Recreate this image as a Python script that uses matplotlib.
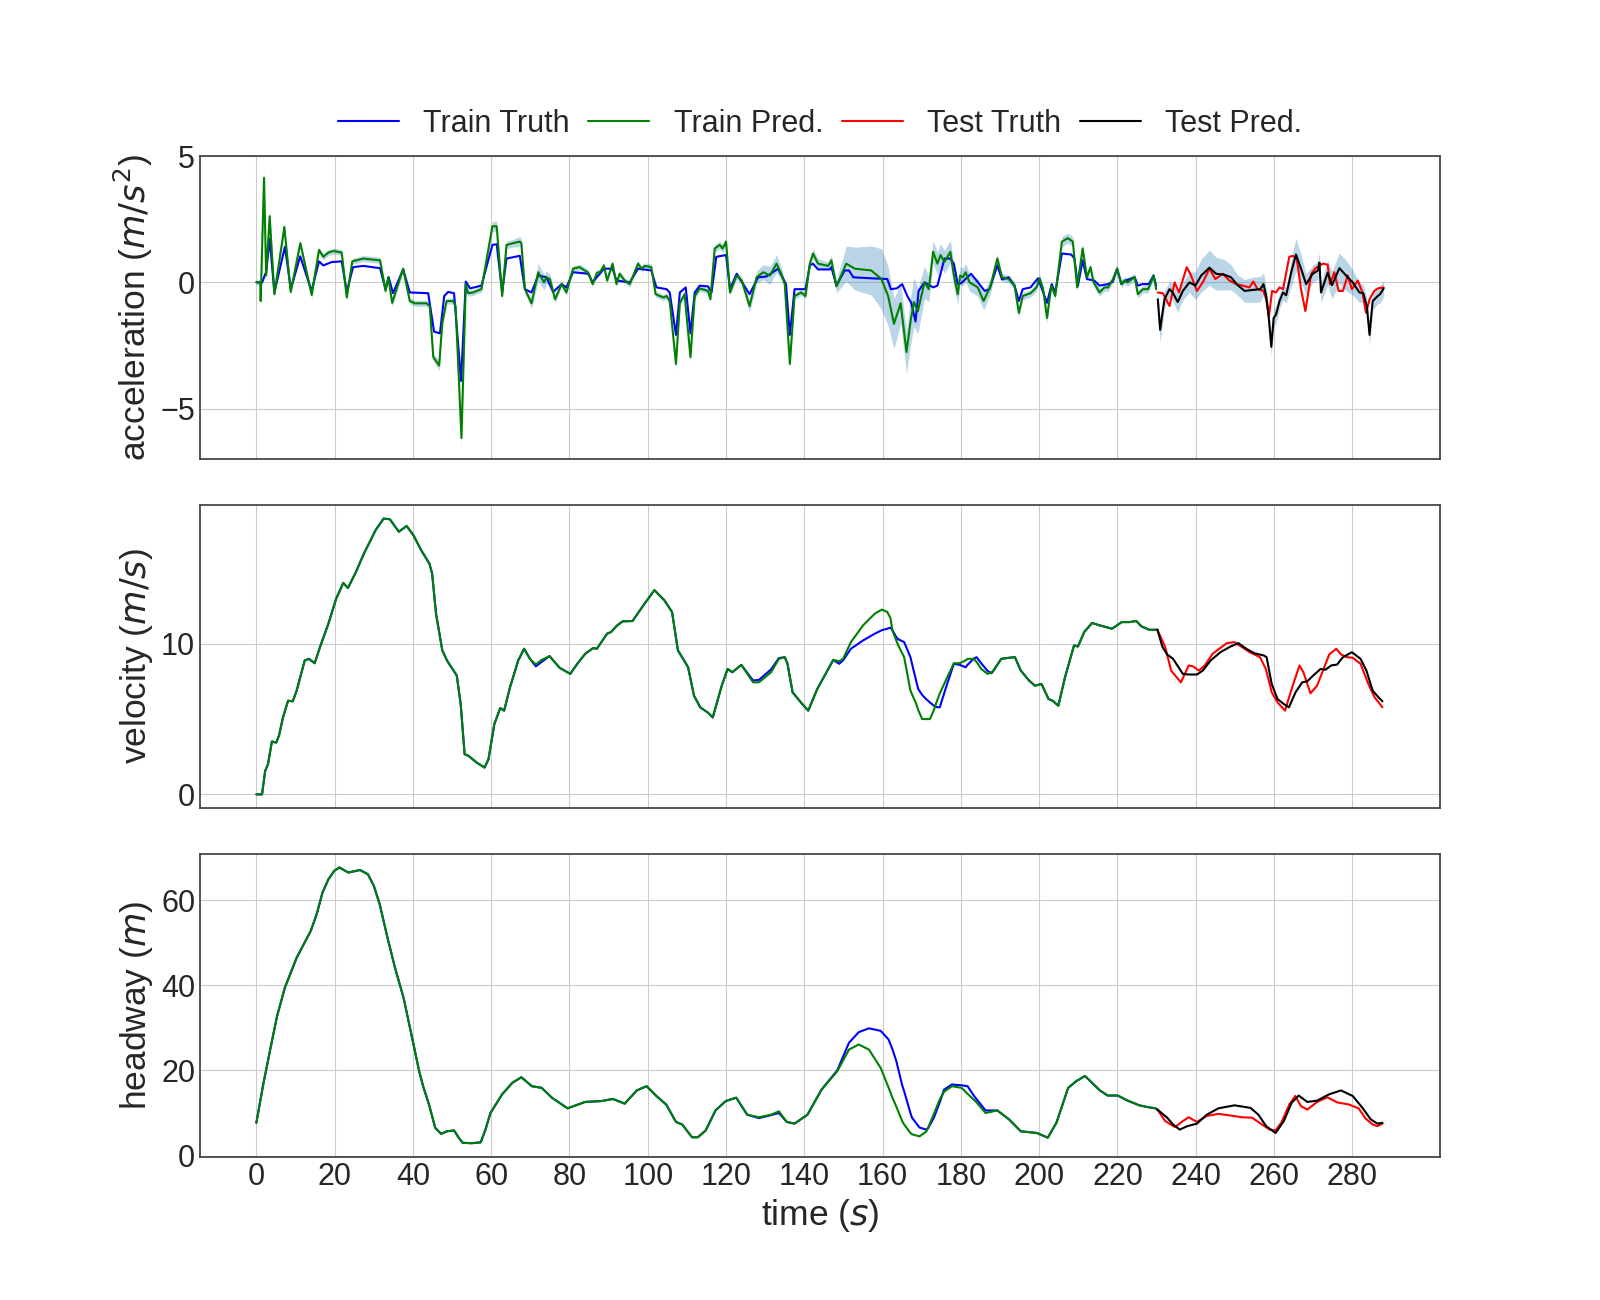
import numpy as np
import matplotlib
matplotlib.use("Agg")
import matplotlib.pyplot as plt

# ---------------- acceleration ----------------
# (time, value)
acc_train_truth = [
    (0, 0), (1.5, 0), (2.2, 0.3), (2.5, 0.4), (3.4, 1.72), (4.6, -0.4), (7.3, 1.41), (8.8, -0.27),
    (11.2, 1.03), (14.1, -0.34), (16.0, 0.83), (17.1, 0.67), (19.2, 0.8), (21.8, 0.83), (23.1, -0.38),
    (24.7, 0.6), (27.3, 0.65), (31.6, 0.56), (33.0, -0.27), (33.8, 0.2), (34.9, -0.43), (37.5, 0.51),
    (39.2, -0.4), (43.9, -0.43), (45.4, -1.95), (46.9, -2.02), (48.0, -0.54), (49.0, -0.38), (50.5, -0.43),
    (52.3, -3.9), (53.5, 0.03), (54.6, -0.24), (57.5, -0.13), (60.3, 1.48), (61.4, 1.51), (62.8, -0.4),
    (63.9, 0.94), (67.3, 1.05), (68.6, -0.27), (70.3, -0.4), (72.0, 0.27), (74.1, 0.2), (75.8, -0.38),
    (78.0, -0.07), (79.2, -0.2), (80.9, 0.4), (84.8, 0.34), (85.9, 0.0), (88.8, 0.54), (91.0, 0.54),
    (92.0, 0.07), (95.4, 0.0), (97.5, 0.54), (100.9, 0.47), (102.2, -0.2), (104.8, -0.27), (105.6, -0.4),
    (107.2, -2.08), (108.2, -0.4), (109.7, -0.2), (110.9, -2.02), (112.0, -0.4), (113.3, -0.13),
    (115.4, -0.16), (116.3, -0.4), (117.5, 1.01), (120.0, 1.08), (121.0, -0.27), (122.7, 0.34),
    (126.0, -0.47), (128.2, 0.2), (130.3, 0.23), (133.3, 0.54), (135.3, -0.07), (136.3, -2.08),
    (137.5, -0.27), (140.3, -0.27), (141.4, 0.67), (142.2, 0.74), (143.5, 0.51), (146.5, 0.51), (146.9, 0.6),
    (148.2, -0.13), (150.3, 0.47), (151.4, 0.47), (152.5, 0.2), (157.1, 0.16), (161.2, 0.13), (162.1, -0.27),
    (163.6, -0.24), (165.0, -0.07), (166.3, -0.54), (167.3, -0.81), (168.4, -1.55), (169.2, -0.34),
    (170.7, 0.0), (172.9, -0.2), (174.0, -0.13), (175.8, 0.94), (177.3, 0.94), (178.2, 0.74), (179.2, -0.07),
    (180.1, -0.03), (182.6, 0.34), (186.1, -0.34), (187.3, -0.27), (189.3, 0.67), (190.5, 0.11), (192.2, 0.2),
    (193.7, -0.13), (194.8, -0.74), (195.8, -0.27), (197.8, -0.2), (199.7, 0.16), (202.0, -0.81),
    (203.2, -0.07), (204.1, -0.4), (205.8, 1.14), (208.2, 1.1), (209.0, 0.94), (209.9, -0.13), (211.1, 0.87),
    (212.2, 0.13), (214.1, 0.07), (215.4, -0.13), (217.6, -0.07), (218.8, 0.03), (219.9, 0.54),
    (221.0, -0.07), (222.0, 0.07), (224.4, 0.2), (225.2, -0.13), (226.4, -0.07), (228.0, -0.07),
    (229.2, 0.27), (229.9, -0.13),
]

# (time, mean prediction, spread)
acc_train_pred = [
    (0, 0, .1), (1.0, 0, .1), (1.1, -0.74, .15), (1.96, 4.14, .3), (2.5, 0.27, .15), (3.4, 2.62, .2),
    (4.6, -0.47, .15), (7.15, 2.19, .15), (8.77, -0.38, .15), (11.23, 1.55, .12), (14.13, -0.5, .15),
    (16.0, 1.28, .12), (17.1, 1.01, .12), (18.4, 1.18, .12), (19.7, 1.24, .12), (21.8, 1.18, .12),
    (23.1, -0.6, .15), (24.5, 0.83, .12), (27.3, 0.94, .12), (31.6, 0.87, .12), (33.0, -0.34, .15),
    (33.7, 0.2, .12), (34.7, -0.81, .15), (37.5, 0.54, .12), (39.2, -0.74, .12), (40.5, -0.83, .12),
    (43.5, -0.83, .12), (44.3, -0.94, .12), (45.2, -2.96, .15), (46.7, -3.29, .2), (47.5, -1.61, .15),
    (48.6, -0.74, .12), (50.3, -0.74, .12), (50.9, -0.94, .12), (52.4, -6.16, .3), (53.5, -0.07, .12),
    (54.1, -0.43, .12), (55.4, -0.4, .12), (56.3, -0.34, .12), (57.5, -0.27, .12), (60.3, 2.22, .2),
    (61.4, 2.22, .2), (62.8, -0.54, .15), (63.9, 1.48, .15), (65.6, 1.55, .15), (67.3, 1.61, .2),
    (67.7, 1.55, .15), (68.6, -0.27, .15), (70.3, -0.83, .2), (72.0, 0.4, .35), (73.5, 0.0, .3),
    (74.1, 0.2, .25), (75.0, 0.13, .2), (76.3, -0.67, .15), (78.0, -0.07, .12), (79.2, -0.4, .12),
    (80.9, 0.54, .12), (82.6, 0.6, .12), (84.8, 0.38, .12), (85.9, -0.07, .12), (87.0, 0.38, .12),
    (87.8, 0.4, .12), (88.8, 0.67, .12), (89.6, 0.07, .12), (91.0, 0.74, .12), (92.0, -0.07, .12),
    (92.8, 0.34, .12), (94.1, 0.07, .12), (95.4, -0.07, .12), (97.5, 0.74, .12), (98.4, 0.54, .12),
    (99.2, 0.65, .12), (100.9, 0.6, .12), (102.0, -0.47, .12), (103.1, -0.54, .12), (104.0, -0.6, .12),
    (104.8, -0.54, .12), (105.6, -0.74, .12), (107.2, -3.23, .2), (108.2, -0.81, .12), (109.4, -0.47, .12),
    (110.9, -2.96, .2), (112.0, -0.54, .12), (113.3, -0.24, .12), (115.4, -0.34, .12), (116.0, -0.67, .12),
    (117.1, 1.34, .15), (118.4, 1.48, .15), (119.1, 1.34, .15), (120.0, 1.61, .15), (121.0, -0.4, .12),
    (122.7, 0.27, .15), (124.0, 0.07, .15), (126.0, -0.94, .25), (127.8, 0.2, .25), (129.5, 0.4, .3),
    (131.2, 0.27, .35), (132.9, 0.74, .35), (134.1, 0.34, .25), (135.0, -0.07, .15), (136.3, -3.23, .2),
    (137.5, -0.54, .12), (139.2, -0.4, .12), (140.3, -0.54, .12), (141.4, 0.74, .15), (142.2, 1.14, .2),
    (143.5, 0.74, .2), (146.1, 0.65, .15), (146.9, 0.87, .2), (148.2, -0.16, .25), (150.7, 0.74, .7),
    (152.9, 0.54, .85), (157.1, 0.47, .97), (159.7, 0.13, 1.2), (161.4, -0.54, 1.17), (162.9, -1.64, 1.0),
    (164.6, -0.83, .8), (166.1, -2.76, .85), (167.2, -1.48, .95), (168.0, -0.78, .97), (169.0, -1.14, .9),
    (170.7, 0.0, .64), (171.8, -0.27, .5), (172.9, 1.21, .45), (174.0, 0.74, .45), (174.8, 1.08, .45),
    (175.8, 0.81, .45), (177.3, 1.21, .45), (178.2, 0.27, .45), (179.2, -0.47, .4), (179.8, 0.27, .35),
    (180.5, 0.2, .35), (181.2, 0.4, .35), (182.2, 0.0, .35), (184.3, -0.2, .35), (185.8, -0.74, .35),
    (187.6, -0.13, .3), (189.3, 0.94, .2), (190.5, 0.2, .15), (192.2, 0.13, .15), (193.7, -0.13, .15),
    (194.8, -1.21, .2), (195.8, -0.54, .15), (197.8, -0.43, .15), (199.3, -0.2, .15), (200.1, 0.16, .15),
    (201.0, -0.27, .15), (202.0, -1.41, .2), (203.1, -0.13, .15), (204.1, -0.54, .15), (205.8, 1.61, .2),
    (207.3, 1.75, .2), (208.6, 1.61, .2), (209.7, -0.2, .15), (211.1, 1.34, .2), (212.2, 0.2, .15),
    (213.1, 0.6, .15), (213.9, 0.0, .15), (215.4, -0.4, .15), (216.7, -0.2, .15), (217.6, -0.2, .15),
    (218.8, 0.11, .15), (219.9, 0.54, .15), (221.0, -0.07, .15), (221.8, 0.07, .15), (222.6, 0.0, .15),
    (223.5, 0.11, .15), (224.4, 0.2, .15), (225.2, -0.47, .15), (226.5, -0.27, .15), (227.8, -0.27, .15),
    (228.4, -0.07, .15), (229.2, 0.27, .15), (229.9, -0.27, .15),
]

acc_test_truth = [
    (230.3, -0.4), (231.6, -0.43), (233.3, -0.94), (234.6, 0.0), (235.7, -0.4), (237.7, 0.6), (238.8, 0.27),
    (240.3, -0.34), (241.8, 0.0), (243.5, 0.54), (245.0, 0.13), (246.9, 0.34), (248.6, 0.07), (250.3, -0.07),
    (252.0, -0.13), (253.7, -0.2), (254.7, 0.03), (255.8, -0.27), (257.3, -0.34), (258.0, -0.67),
    (258.7, -1.34), (259.5, -0.34), (260.5, -0.4), (261.4, -0.2), (262.3, -0.27), (263.9, 1.01),
    (264.8, 1.05), (265.8, 0.94), (266.9, -0.27), (268.0, -1.14), (269.5, 0.34), (270.6, 0.56),
    (272.5, 0.74), (273.7, 0.7), (274.3, -0.07), (275.4, 0.4), (276.5, -0.34), (277.6, -0.34),
    (278.8, 0.27), (279.9, -0.27), (281.4, 0.07), (282.6, -0.4), (283.5, -1.21), (284.4, -0.67),
    (285.6, -0.34), (286.5, -0.24), (288.0, -0.2),
]

acc_test_pred = [
    (230.3, -0.67, .3), (230.9, -1.88, .5), (232.0, -0.67, .35), (233.3, -0.27, .3), (234.1, -0.4, .35),
    (235.4, -0.78, .4), (236.7, -0.34, .35), (238.4, 0.0, .4), (239.9, -0.13, .55), (241.4, 0.27, .65),
    (243.5, 0.58, .7), (245.2, 0.34, .65), (247.3, 0.3, .6), (249.0, 0.2, .5), (250.7, -0.11, .4),
    (252.5, -0.34, .45), (254.6, -0.3, .5), (256.5, -0.27, .5), (257.3, -0.07, .45), (258.0, -0.54, .35),
    (258.7, -1.48, .35), (259.3, -2.55, .35), (259.9, -1.41, .35), (260.5, -1.28, .35), (261.4, -0.74, .3),
    (262.3, -0.4, .3), (263.1, -0.51, .3), (264.4, 0.4, .55), (265.6, 1.1, .65), (266.9, 0.54, .55),
    (268.2, -0.07, .4), (269.9, 0.34, .35), (271.2, 0.47, .35), (271.6, 0.78, .4), (272.0, -0.4, .4),
    (273.7, 0.38, .5), (274.8, -0.11, .55), (276.7, 0.56, .6), (278.4, 0.27, .6), (280.1, 0.0, .5),
    (281.8, -0.4, .4), (282.8, -0.43, .35), (283.7, -0.94, .3), (284.4, -2.08, .4), (285.2, -0.74, .35),
    (286.5, -0.54, .3), (287.1, -0.47, .35), (288.0, -0.24, .3),
]

# ---------------- velocity ----------------
# (time, truth, prediction)
vel_train = [
    (0, 0, 0), (1.45, 0, 0), (2.25, 1.56, 1.56), (2.96, 2.0, 2.0), (3.97, 3.51, 3.51), (5.08, 3.44, 3.44),
    (5.78, 3.9, 3.9), (6.8, 5.11, 5.11), (8.1, 6.22, 6.22), (9.3, 6.18, 6.18), (10.3, 6.89, 6.89),
    (12.35, 8.89, 8.89), (13.4, 9.0, 9.0), (14.9, 8.71, 8.71), (16.4, 9.89, 9.89), (18.4, 11.33, 11.33),
    (20.4, 13.0, 13.0), (22.2, 14.04, 14.04), (23.4, 13.7, 13.7), (25.5, 14.8, 14.8), (27.5, 16.0, 16.0),
    (30.5, 17.56, 17.56), (32.5, 18.31, 18.31), (34.1, 18.27, 18.27), (36.4, 17.44, 17.44),
    (38.4, 17.82, 17.82), (40.1, 17.22, 17.22), (42.1, 16.22, 16.22), (44.2, 15.33, 15.33),
    (44.9, 14.67, 14.67), (45.9, 12.0, 12.0), (47.5, 9.56, 9.56), (48.7, 8.89, 8.89), (51.2, 7.89, 7.89),
    (52.2, 6.0, 6.0), (53.2, 2.67, 2.67), (54.2, 2.56, 2.56), (56.3, 2.11, 2.11), (58.3, 1.78, 1.78),
    (59.3, 2.33, 2.33), (60.8, 4.67, 4.67), (62.3, 5.73, 5.73), (63.3, 5.56, 5.56), (64.8, 7.11, 7.11),
    (66.9, 8.89, 8.89), (68.4, 9.67, 9.67), (69.9, 9.0, 9.0), (71.4, 8.5, 8.62), (72.9, 8.8, 8.93),
    (74.9, 9.18, 9.18), (77.5, 8.4, 8.4), (80.2, 8.0, 8.0), (82.0, 8.67, 8.67), (84.0, 9.33, 9.33),
    (86.0, 9.71, 9.71), (87.0, 9.67, 9.67), (89.6, 10.67, 10.67), (90.6, 10.78, 10.78), (92.1, 11.2, 11.2),
    (93.6, 11.49, 11.49), (96.1, 11.51, 11.51), (99.2, 12.67, 12.67), (101.7, 13.56, 13.56),
    (104.2, 12.9, 12.9), (106.2, 12.11, 12.11), (107.7, 9.56, 9.56), (109.8, 8.67, 8.67), (110.3, 8.44, 8.44),
    (111.8, 6.56, 6.56), (113.4, 5.78, 5.78), (115.3, 5.44, 5.44), (116.6, 5.11, 5.11), (118.9, 7.22, 7.22),
    (120.4, 8.33, 8.33), (121.6, 8.11, 8.11), (123.9, 8.6, 8.6), (126.9, 7.56, 7.44), (128.4, 7.6, 7.44),
    (131.5, 8.3, 8.11), (133.5, 9.05, 9.0), (135.0, 9.11, 9.11), (135.7, 8.67, 8.67), (137.0, 6.78, 6.78),
    (139.1, 6.11, 6.11), (141.0, 5.56, 5.56), (143.3, 7.0, 7.0), (147.4, 8.93, 8.93), (148.9, 8.67, 8.84),
    (149.9, 8.9, 9.0), (151.9, 9.67, 10.11), (155.0, 10.22, 11.22), (158.0, 10.67, 12.0), (159.8, 10.9, 12.27),
    (161.2, 11.0, 12.11), (162.0, 11.07, 11.7), (162.5, 10.9, 10.89), (163.5, 10.44, 10.2),
    (164.0, 10.3, 9.89), (165.5, 10.11, 9.11), (167.1, 9.11, 6.89), (168.6, 7.5, 6.0), (169.1, 7.0, 5.6),
    (170.1, 6.6, 5.0), (171.1, 6.33, 5.0), (172.1, 6.1, 5.0), (173.1, 5.89, 5.6), (173.6, 5.8, 6.0),
    (174.6, 5.78, 6.7), (175.7, 6.7, 7.33), (176.2, 7.11, 7.6), (178.2, 8.67, 8.71), (179.7, 8.6, 8.71),
    (181.2, 8.44, 8.9), (181.7, 8.6, 9.0), (183.2, 9.0, 9.0), (184.0, 9.11, 8.8), (185.2, 8.7, 8.33),
    (186.8, 8.2, 8.0), (187.8, 8.04, 8.1), (188.3, 8.2, 8.22), (190.3, 9.0, 9.0), (192.3, 9.07, 9.07),
    (193.8, 9.11, 9.11), (195.3, 8.22, 8.22), (197.4, 7.56, 7.56), (198.9, 7.22, 7.22), (200.6, 7.33, 7.33),
    (202.4, 6.33, 6.33), (203.4, 6.22, 6.22), (204.9, 5.89, 5.89), (206.6, 7.78, 7.78), (208.9, 9.89, 9.89),
    (209.9, 9.82, 9.82), (211.5, 10.78, 10.78), (213.5, 11.38, 11.38), (215.5, 11.22, 11.22),
    (218.6, 11.0, 11.0), (221.1, 11.44, 11.44), (223.1, 11.44, 11.44), (224.8, 11.51, 11.51),
    (226.1, 11.16, 11.16), (228.1, 10.93, 10.93), (229.9, 10.93, 10.93), (230.2, 10.93, 10.93),
]

vel_test_truth = [
    (230.2, 10.93), (232.2, 9.78), (233.7, 8.22), (236.2, 7.44), (238.2, 8.56), (239.3, 8.5), (240.8, 8.22),
    (242.3, 8.56), (244.3, 9.33), (247.9, 10.04), (249.9, 10.11), (251.8, 9.78), (253.8, 9.44),
    (256.4, 9.11), (257.9, 8.33), (259.4, 6.78), (260.9, 6.11), (262.8, 5.56), (264.5, 7.0), (266.5, 8.56),
    (267.5, 8.11), (269.3, 6.71), (271.0, 7.22), (274.1, 9.29), (275.9, 9.67), (277.1, 9.29), (278.6, 9.11),
    (280.1, 9.07), (282.1, 8.67), (284.1, 7.33), (285.7, 6.44), (287.7, 5.78),
]
vel_test_pred = [
    (230.2, 10.93), (231.5, 9.78), (232.7, 9.29), (234.2, 9.0), (236.7, 8.0), (238.2, 7.96), (240.3, 7.96),
    (241.8, 8.22), (243.8, 8.89), (246.3, 9.44), (248.9, 9.82), (250.9, 10.04), (252.9, 9.67), (254.9, 9.38),
    (257.4, 9.22), (258.1, 9.11), (259.4, 7.33), (260.9, 6.33), (262.5, 6.0), (263.8, 5.78), (265.5, 6.78),
    (267.2, 7.44), (268.5, 7.51), (270.0, 7.89), (271.9, 8.33), (273.1, 8.27), (274.6, 8.56), (276.1, 8.62),
    (277.6, 9.11), (279.9, 9.44), (282.1, 9.0), (283.6, 8.22), (285.2, 6.89), (286.7, 6.44), (287.7, 6.18),
]

# ---------------- headway ----------------
# (time, truth, prediction)
hw_train = [
    (0, 7.69, 7.69), (1.75, 16.7, 16.7), (3.8, 26.1, 26.1), (5.3, 32.8, 32.8), (7.3, 39.5, 39.5),
    (10.3, 46.5, 46.5), (13.9, 52.8, 52.8), (15.4, 56.7, 56.7), (16.9, 61.8, 61.8), (18.4, 64.9, 64.9),
    (19.9, 66.9, 66.9), (21.2, 67.7, 67.7), (23.5, 66.5, 66.5), (26.5, 67.1, 67.1), (28.5, 66.1, 66.1),
    (30.0, 63.4, 63.4), (31.5, 59.1, 59.1), (33.5, 51.2, 51.2), (35.4, 44.2, 44.2), (37.6, 37.1, 37.1),
    (39.6, 28.5, 28.5), (41.6, 19.8, 19.8), (42.6, 16.3, 16.3), (44.1, 12.0, 12.0), (45.7, 6.5, 6.5),
    (47.2, 5.1, 5.1), (48.7, 5.7, 5.7), (50.5, 5.9, 5.9), (51.7, 4.2, 4.2), (52.7, 3.0, 3.0), (55.0, 2.9, 2.9),
    (57.3, 3.1, 3.1), (58.5, 6.0, 6.0), (59.8, 10.0, 10.0), (62.8, 14.4, 14.4), (65.4, 17.1, 17.1),
    (67.7, 18.4, 18.4), (70.4, 16.3, 16.3), (72.9, 15.9, 15.9), (75.5, 13.6, 13.6), (79.5, 11.1, 11.1),
    (84.0, 12.6, 12.6), (88.1, 12.8, 12.8), (91.1, 13.3, 13.3), (94.1, 12.2, 12.2), (97.2, 15.3, 15.3),
    (99.7, 16.3, 16.3), (102.2, 14.0, 14.0), (104.7, 12.0, 12.0), (107.2, 7.9, 7.9), (108.8, 7.3, 7.3),
    (111.3, 4.3, 4.3), (112.8, 4.3, 4.3), (114.8, 5.9, 5.9), (117.3, 10.6, 10.6), (119.9, 12.8, 12.8),
    (122.6, 13.6, 13.6), (125.4, 9.6, 9.6), (128.4, 8.8, 9.0), (131.5, 9.5, 9.6), (133.5, 10.0, 10.4),
    (135.5, 7.9, 7.9), (137.5, 7.5, 7.5), (140.8, 9.6, 9.6), (144.4, 15.5, 15.5), (148.4, 20.0, 19.8),
    (151.4, 26.5, 24.9), (153.9, 29.0, 26.1), (156.5, 29.9, 24.9), (159.5, 29.3, 20.6), (161.5, 27.3, 16.0),
    (162.5, 25.0, 13.6), (163.5, 22.2, 11.5), (165.0, 16.5, 8.1), (165.5, 15.1, 7.3), (167.1, 10.0, 5.3),
    (167.5, 8.9, 5.0), (169.4, 6.6, 4.5), (171.1, 6.1, 5.6), (171.6, 6.4, 6.5), (173.1, 8.9, 9.8),
    (174.6, 12.5, 13.2), (175.7, 15.5, 15.0), (177.7, 16.7, 16.3), (180.2, 16.5, 15.9), (181.7, 16.3, 14.5),
    (183.2, 14.2, 13.2), (183.7, 13.6, 12.8), (186.3, 10.6, 10.0), (189.3, 10.6, 10.6), (192.3, 8.5, 8.5),
    (195.3, 5.7, 5.7), (199.4, 5.3, 5.3), (202.2, 4.2, 4.2), (204.4, 7.7, 7.7), (207.4, 15.9, 15.9),
    (209.5, 17.5, 17.5), (211.7, 18.7, 18.7), (213.5, 17.1, 17.1), (215.5, 15.3, 15.3), (217.5, 14.1, 14.1),
    (220.1, 14.1, 14.1), (222.6, 12.9, 12.9), (225.6, 11.8, 11.8), (227.6, 11.4, 11.4), (229.7, 11.1, 11.1),
    (230.2, 10.8, 10.8),
]

hw_test_truth = [
    (230.2, 10.8), (232.2, 8.1), (234.7, 6.7), (236.7, 8.1), (238.2, 9.0), (240.3, 7.9), (242.8, 9.3),
    (245.8, 9.8), (248.9, 9.4), (251.8, 9.0), (254.4, 8.9), (256.9, 7.3), (258.9, 6.1), (260.4, 5.9),
    (261.9, 7.8), (263.9, 12.0), (265.4, 14.0), (266.9, 11.6), (268.5, 10.8), (271.0, 12.6), (273.6, 13.7),
    (276.1, 12.5), (279.1, 12.0), (281.6, 11.1), (283.4, 8.7), (285.2, 7.3), (286.4, 6.9), (287.7, 7.5),
]
hw_test_pred = [
    (230.2, 10.8), (232.7, 8.9), (234.2, 7.3), (235.9, 6.1), (237.8, 6.9), (240.3, 7.5), (242.8, 9.6),
    (245.8, 11.1), (249.9, 11.8), (254.0, 11.2), (256.0, 9.6), (258.0, 6.9), (260.4, 5.3), (262.5, 8.1),
    (264.5, 12.4), (266.3, 14.1), (268.5, 12.6), (271.0, 12.9), (274.1, 14.4), (277.1, 15.3), (280.1, 14.0),
    (282.6, 11.2), (284.7, 8.5), (286.4, 7.5), (287.7, 7.7),
]


def cols(rows):
    return [np.array(c, dtype=float) for c in zip(*rows)]


plt.style.use("seaborn-v0_8-whitegrid")
plt.rcParams["font.family"] = ["Liberation Sans", "DejaVu Sans"]

fig, axes = plt.subplots(3, 1, sharex=True, figsize=(16, 13))
plt.subplots_adjust(hspace=0.15)
lw = 1.5
label_size = 25.5

# acceleration
ax = axes[0]
t, y = cols(acc_train_truth)
pt, py, ps = cols(acc_train_pred)
tt, ty = cols(acc_test_truth)
qt, qy, qs = cols(acc_test_pred)
ax.fill_between(pt, py - ps, py + ps, alpha=0.3, color="C0", linewidth=0, zorder=1)
ax.fill_between(qt, qy - qs, qy + qs, alpha=0.3, color="C0", linewidth=0, zorder=1)
ax.plot(t, y, color="blue", lw=lw, label="Train Truth", zorder=2)
ax.plot(pt, py, color="green", lw=lw, label="Train Pred.", zorder=3)
ax.plot(tt, ty, color="red", lw=lw, label="Test Truth", zorder=2)
ax.plot(qt, qy, color="black", lw=lw, label="Test Pred.", zorder=3)
ax.set_ylabel("acceleration ($m/s^2$)", fontsize=label_size)
ax.set_yticks([-5, 0, 5])
ax.legend(loc="lower center", bbox_to_anchor=(0.5, 0.965), ncol=4, frameon=False, fontsize=22,
          columnspacing=0.6)

# velocity
ax = axes[1]
t, yt, yp = cols(vel_train)
ax.plot(t, yt, color="blue", lw=lw)
ax.plot(t, yp, color="green", lw=lw)
t, y = cols(vel_test_truth)
ax.plot(t, y, color="red", lw=lw)
t, y = cols(vel_test_pred)
ax.plot(t, y, color="black", lw=lw)
ax.set_ylabel("velocity ($m/s$)", fontsize=label_size)
ax.set_yticks([0, 10])

# headway
ax = axes[2]
t, yt, yp = cols(hw_train)
ax.plot(t, yt, color="blue", lw=lw)
ax.plot(t, yp, color="green", lw=lw)
t, y = cols(hw_test_truth)
ax.plot(t, y, color="red", lw=lw)
t, y = cols(hw_test_pred)
ax.plot(t, y, color="black", lw=lw)
ax.set_ylabel("headway ($m$)", fontsize=label_size)
ax.set_yticks([0, 20, 40, 60])
ax.set_xlabel("time ($s$)", fontsize=label_size)
ax.set_xticks(range(0, 281, 20))

for ax in axes:
    ax.tick_params(labelsize=22)
    for sp in ax.spines.values():
        sp.set_color("0.25")
        sp.set_linewidth(1.25)

fig.savefig("out.png", dpi=100)
